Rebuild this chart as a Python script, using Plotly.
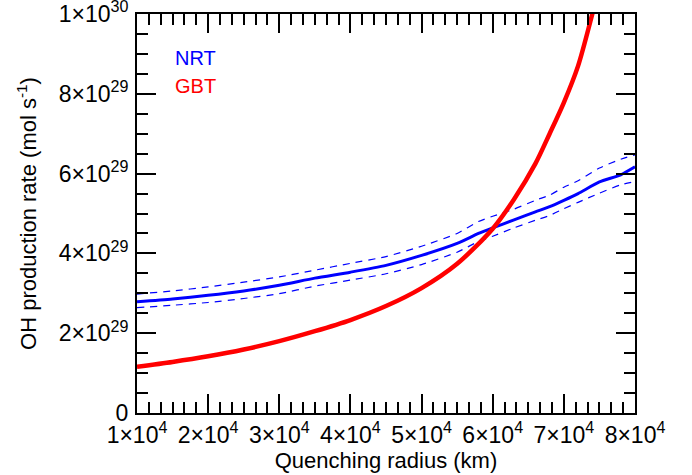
import plotly.graph_objects as go

# Quenching radius (km)
x_gbt = [1.0e4, 1.5e4, 2.0e4, 2.5e4, 3.0e4, 3.5e4, 4.0e4, 4.5e4, 5.0e4, 5.5e4, 6.0e4,
         6.3e4, 6.6e4, 6.8e4, 7.0e4, 7.2e4, 7.4e4, 7.5e4]
# GBT OH production rate (units of 1e29 mol/s)
gbt = [1.16, 1.28, 1.42, 1.59, 1.80, 2.05, 2.33, 2.68, 3.13, 3.74, 4.62,
       5.36, 6.25, 7.00, 7.78, 8.70, 10.0, 10.7]

x_nrt = [1.0e4, 1.5e4, 2.0e4, 2.5e4, 3.0e4, 3.5e4, 4.0e4, 4.5e4, 5.0e4, 5.5e4, 5.8e4,
         6.0e4, 6.3e4, 6.6e4, 6.8e4, 7.0e4, 7.2e4, 7.5e4, 7.8e4, 8.0e4]
# NRT OH production rate and its upper/lower bounds (units of 1e29 mol/s)
nrt = [2.79, 2.86, 2.95, 3.06, 3.20, 3.38, 3.53, 3.70, 3.95, 4.25, 4.50,
       4.64, 4.84, 5.04, 5.17, 5.33, 5.50, 5.79, 5.97, 6.17]
nrt_hi = [2.98, 3.06, 3.16, 3.28, 3.41, 3.58, 3.75, 3.92, 4.18, 4.50, 4.80,
          4.93, 5.11, 5.33, 5.46, 5.66, 5.82, 6.14, 6.36, 6.47]
nrt_lo = [2.64, 2.70, 2.77, 2.87, 2.99, 3.18, 3.33, 3.49, 3.72, 4.03, 4.30,
          4.43, 4.64, 4.83, 4.95, 5.12, 5.28, 5.51, 5.72, 5.80]

x_tickvals = [1e4, 2e4, 3e4, 4e4, 5e4, 6e4, 7e4, 8e4]
x_ticktext = ["1×10<sup>4</sup>", "2×10<sup>4</sup>", "3×10<sup>4</sup>", "4×10<sup>4</sup>",
              "5×10<sup>4</sup>", "6×10<sup>4</sup>", "7×10<sup>4</sup>", "8×10<sup>4</sup>"]
# y tick positions in units of 1e29
y_tickvals = [0, 2, 4, 6, 8, 10]
y_ticktext = ["0", "2×10<sup>29</sup>", "4×10<sup>29</sup>", "6×10<sup>29</sup>",
              "8×10<sup>29</sup>", "1×10<sup>30</sup>"]

FONT = "Liberation Sans, Arial, Helvetica, sans-serif"
BLUE = "#0000ff"
RED = "#ff0000"

fig = go.Figure()
fig.add_trace(go.Scatter(x=x_nrt, y=nrt_hi, mode="lines",
                         line=dict(color=BLUE, width=1.2, dash="7px,6px", shape="spline", smoothing=0.6)))
fig.add_trace(go.Scatter(x=x_nrt, y=nrt_lo, mode="lines",
                         line=dict(color=BLUE, width=1.2, dash="7px,6px", shape="spline", smoothing=0.6)))
fig.add_trace(go.Scatter(x=x_nrt, y=nrt, mode="lines",
                         line=dict(color=BLUE, width=3, shape="spline", smoothing=0.6)))
fig.add_trace(go.Scatter(x=x_gbt, y=gbt, mode="lines",
                         line=dict(color=RED, width=4.5, shape="spline", smoothing=0.8)))

axis_common = dict(
    showline=True, linecolor="black", linewidth=2, mirror="allticks",
    ticks="inside", ticklen=19, tickwidth=2, tickcolor="black",
    showgrid=False, zeroline=False, ticklabeloverflow="allow",
    tickfont=dict(family=FONT, size=23, color="black"),
)

fig.update_xaxes(
    range=[1e4, 8e4], tickmode="array", tickvals=x_tickvals, ticktext=x_ticktext,
    minor=dict(ticks="inside", ticklen=11, tickwidth=2, tickcolor="black",
               dtick=10000 / 6, tick0=10000, showgrid=False),
    title=dict(text="Quenching radius (km)", font=dict(family=FONT, size=22, color="black"), standoff=0),
    **axis_common,
)
fig.update_yaxes(
    range=[0, 10], tickmode="array", tickvals=y_tickvals, ticktext=y_ticktext,
    minor=dict(ticks="inside", ticklen=11, tickwidth=2, tickcolor="black",
               dtick=0.5, tick0=0, showgrid=False),
    ticklabelstandoff=2,
    title=dict(text="OH production rate (mol s<sup>-1</sup>)", font=dict(family=FONT, size=22, color="black"), standoff=16),
    **axis_common,
)

fig.add_annotation(x=0.072, y=0.889, xref="paper", yref="paper", text="NRT", showarrow=False,
                   xanchor="left", yanchor="middle", font=dict(family=FONT, size=20, color=BLUE))
fig.add_annotation(x=0.072, y=0.8195, xref="paper", yref="paper", text="GBT", showarrow=False,
                   xanchor="left", yanchor="middle", font=dict(family=FONT, size=20, color=RED))

fig.update_layout(
    width=692, height=475,
    margin=dict(l=137, r=57, t=14, b=62, autoexpand=False),
    paper_bgcolor="white", plot_bgcolor="white",
    showlegend=False,
    font=dict(family=FONT, color="black"),
)

fig.write_html("out.html", config={"displayModeBar": False},
               post_script="document.body.style.margin='0';document.body.style.overflow='hidden';")
